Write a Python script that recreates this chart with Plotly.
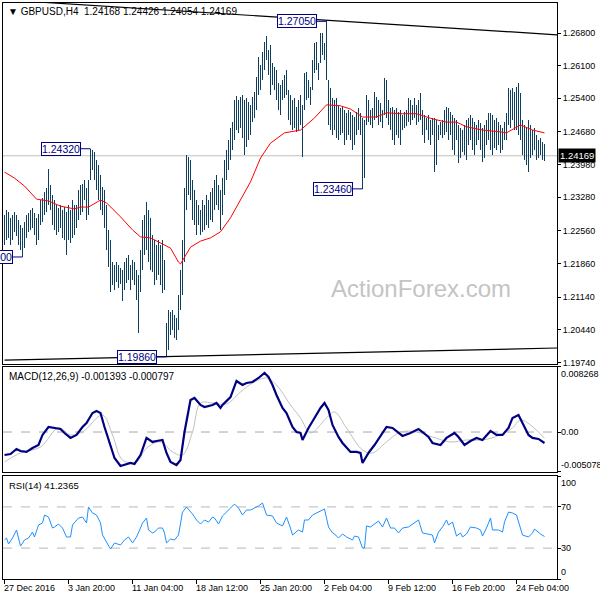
import plotly.graph_objects as go

# ---------------- data ----------------
symbol_title = "GBPUSD,H4"
last_ohlc = [1.24168, 1.24426, 1.24054, 1.24169]

bar_high = [
    1.2290, 1.2301, 1.2296, 1.2284, 1.2290, 1.2296, 1.2290, 1.2279, 1.2269, 1.2262,
    1.2275, 1.2290, 1.2294, 1.2301, 1.2305, 1.2294, 1.2284, 1.2292, 1.2322, 1.2327,
    1.2340, 1.2348, 1.2389, 1.2354, 1.2333, 1.2322, 1.2311, 1.2305, 1.2311, 1.2301,
    1.2307, 1.2296, 1.2311, 1.2301, 1.2322, 1.2311, 1.2311, 1.2344, 1.2354, 1.2357,
    1.2365, 1.2348, 1.2365, 1.2432, 1.2429, 1.2425, 1.2408, 1.2397, 1.2376, 1.2350,
    1.2344, 1.2311, 1.2258, 1.2236, 1.2189, 1.2183, 1.2189, 1.2183, 1.2176, 1.2172,
    1.2189, 1.2198, 1.2204, 1.2183, 1.2194, 1.2189, 1.2172, 1.2161, 1.2215, 1.2279,
    1.2290, 1.2318, 1.2301, 1.2284, 1.2247, 1.2236, 1.2226, 1.2236, 1.2226, 1.2236,
    1.2194, 1.2059, 1.2086, 1.2082, 1.2086, 1.2076, 1.2069, 1.2119, 1.2172, 1.2236,
    1.2348, 1.2419, 1.2414, 1.2408, 1.2365, 1.2344, 1.2322, 1.2311, 1.2301, 1.2322,
    1.2311, 1.2333, 1.2322, 1.2340, 1.2348, 1.2365, 1.2376, 1.2354, 1.2344, 1.2369,
    1.2408, 1.2429, 1.2451, 1.2476, 1.2489, 1.2536, 1.2545, 1.2536, 1.2543, 1.2547,
    1.2536, 1.2541, 1.2532, 1.2526, 1.2543, 1.2553, 1.2586, 1.2629, 1.2612, 1.2639,
    1.2661, 1.2674, 1.2644, 1.2654, 1.2616, 1.2607, 1.2601, 1.2573, 1.2568, 1.2579,
    1.2590, 1.2601, 1.2558, 1.2547, 1.2536, 1.2541, 1.2521, 1.2536, 1.2547, 1.2526,
    1.2594, 1.2596, 1.2579, 1.2564, 1.2622, 1.2659, 1.2661, 1.2616, 1.2680, 1.2680,
    1.2659, 1.2705, 1.2579, 1.2562, 1.2541, 1.2536, 1.2541, 1.2526, 1.2519, 1.2521,
    1.2515, 1.2509, 1.2515, 1.2511, 1.2504, 1.2500, 1.2511, 1.2519, 1.2509, 1.2498,
    1.2494, 1.2547, 1.2536, 1.2515, 1.2519, 1.2553, 1.2543, 1.2536, 1.2530, 1.2515,
    1.2584, 1.2579, 1.2536, 1.2519, 1.2521, 1.2515, 1.2519, 1.2511, 1.2515, 1.2504,
    1.2511, 1.2515, 1.2541, 1.2536, 1.2526, 1.2541, 1.2526, 1.2536, 1.2551, 1.2515,
    1.2504, 1.2498, 1.2504, 1.2494, 1.2498, 1.2498, 1.2494, 1.2483, 1.2489, 1.2494,
    1.2515, 1.2521, 1.2519, 1.2511, 1.2504, 1.2498, 1.2494, 1.2483, 1.2476, 1.2472,
    1.2483, 1.2494, 1.2498, 1.2504, 1.2498, 1.2489, 1.2483, 1.2494, 1.2487, 1.2476,
    1.2483, 1.2494, 1.2509, 1.2509, 1.2504, 1.2494, 1.2498, 1.2489, 1.2483, 1.2476,
    1.2489, 1.2509, 1.2562, 1.2558, 1.2562, 1.2553, 1.2564, 1.2573, 1.2551, 1.2494,
    1.2483, 1.2476, 1.2494, 1.2483, 1.2472, 1.2476, 1.2461, 1.2451, 1.2455, 1.2446,
    1.24426,
]
bar_low = [
    1.2226, 1.2236, 1.2241, 1.2226, 1.2236, 1.2254, 1.2245, 1.2226, 1.2215, 1.2200,
    1.2219, 1.2241, 1.2254, 1.2258, 1.2262, 1.2247, 1.2226, 1.2236, 1.2269, 1.2275,
    1.2290, 1.2296, 1.2311, 1.2301, 1.2269, 1.2258, 1.2247, 1.2254, 1.2262, 1.2241,
    1.2236, 1.2204, 1.2236, 1.2230, 1.2241, 1.2247, 1.2262, 1.2279, 1.2290, 1.2296,
    1.2322, 1.2279, 1.2290, 1.2365, 1.2387, 1.2365, 1.2344, 1.2322, 1.2301, 1.2290,
    1.2262, 1.2215, 1.2178, 1.2125, 1.2140, 1.2129, 1.2146, 1.2134, 1.2142, 1.2106,
    1.2129, 1.2144, 1.2151, 1.2129, 1.2151, 1.2140, 1.2108, 1.2037, 1.2125, 1.2172,
    1.2204, 1.2215, 1.2189, 1.2172, 1.2168, 1.2140, 1.2151, 1.2161, 1.2140, 1.2123,
    1.2129, 1.1986, 1.2001, 1.2033, 1.2044, 1.2026, 1.2022, 1.2044, 1.2086, 1.2119,
    1.2189, 1.2301, 1.2333, 1.2322, 1.2279, 1.2269, 1.2247, 1.2269, 1.2247, 1.2254,
    1.2258, 1.2269, 1.2262, 1.2279, 1.2275, 1.2301, 1.2311, 1.2301, 1.2258, 1.2290,
    1.2333, 1.2365, 1.2387, 1.2408, 1.2429, 1.2451, 1.2472, 1.2466, 1.2476, 1.2455,
    1.2419, 1.2436, 1.2451, 1.2461, 1.2489, 1.2498, 1.2515, 1.2547, 1.2558, 1.2579,
    1.2601, 1.2622, 1.2590, 1.2547, 1.2568, 1.2558, 1.2536, 1.2515, 1.2504, 1.2536,
    1.2541, 1.2547, 1.2494, 1.2483, 1.2472, 1.2476, 1.2468, 1.2472, 1.2483, 1.2414,
    1.2515, 1.2536, 1.2541, 1.2526, 1.2558, 1.2594, 1.2601, 1.2579, 1.2616, 1.2633,
    1.2622, 1.2579, 1.2483, 1.2472, 1.2461, 1.2472, 1.2455, 1.2451, 1.2461, 1.2466,
    1.2440, 1.2451, 1.2461, 1.2451, 1.2429, 1.2440, 1.2461, 1.2472, 1.2461, 1.2346,
    1.2369, 1.2483, 1.2489, 1.2483, 1.2476, 1.2494, 1.2498, 1.2483, 1.2489, 1.2476,
    1.2504, 1.2498, 1.2483, 1.2472, 1.2451, 1.2440, 1.2461, 1.2455, 1.2440, 1.2472,
    1.2476, 1.2481, 1.2489, 1.2483, 1.2494, 1.2498, 1.2483, 1.2489, 1.2494, 1.2461,
    1.2444, 1.2472, 1.2451, 1.2440, 1.2461, 1.2382, 1.2397, 1.2451, 1.2461, 1.2455,
    1.2461, 1.2468, 1.2451, 1.2461, 1.2429, 1.2419, 1.2451, 1.2402, 1.2412, 1.2425,
    1.2419, 1.2408, 1.2440, 1.2451, 1.2429, 1.2419, 1.2440, 1.2451, 1.2429, 1.2404,
    1.2412, 1.2440, 1.2451, 1.2429, 1.2419, 1.2434, 1.2429, 1.2440, 1.2423, 1.2429,
    1.2451, 1.2451, 1.2483, 1.2476, 1.2494, 1.2472, 1.2472, 1.2461, 1.2451, 1.2419,
    1.2408, 1.2397, 1.2382, 1.2412, 1.2419, 1.2429, 1.2408, 1.2412, 1.2419, 1.2408,
    1.24054,
]

ma_idx = [0, 5, 10, 16, 22, 28, 35, 38, 42, 48, 51, 58, 64, 68, 73, 78, 83, 87, 88, 93,
          98, 103, 108, 113, 118, 123, 128, 133, 140, 148, 155, 161, 168, 173, 179, 186, 191, 198, 206, 214,
          221, 226, 231, 239, 248, 251, 258, 264, 270]
ma_val = [1.2382, 1.2369, 1.2352, 1.2324, 1.2320, 1.2309, 1.2303, 1.2307, 1.2307, 1.2322,
          1.2316, 1.2286, 1.2258, 1.2243, 1.2241, 1.2230, 1.2219, 1.2189, 1.2185, 1.2221,
          1.2234, 1.2241, 1.2254, 1.2284, 1.2322, 1.2361, 1.2412, 1.2444, 1.2466, 1.2472,
          1.2498, 1.2526, 1.2524, 1.2517, 1.2500, 1.2500, 1.2509, 1.2507, 1.2507, 1.2496,
          1.2489, 1.2489, 1.2479, 1.2472, 1.2468, 1.2466, 1.2483, 1.2472, 1.2466]

macd_idx = [0, 3, 6, 8, 11, 14, 17, 19, 22, 25, 28, 30, 33, 36, 39, 41, 44, 46, 48, 50,
            53, 55, 58, 60, 63, 65, 68, 71, 74, 76, 79, 81, 83, 86, 88, 90, 93, 95, 98, 100,
            104, 106, 108, 109, 113, 116, 119, 121, 124, 127, 130, 132, 134, 136, 139, 141, 144, 146, 148, 149,
            152, 155, 158, 160, 162, 164, 167, 169, 173, 176, 178, 179, 182, 185, 189, 191, 194, 197, 199, 203,
            207, 209, 212, 214, 218, 221, 225, 227, 230, 233, 236, 239, 243, 246, 249, 252, 254, 257, 259, 262,
            264, 267, 270]
macd_val = [-0.00292, -0.00279, -0.00215, -0.00241, -0.00253, -0.00203, -0.00165, -0.00037, 0.00064, 0.00052,
            0.00039, -0.00012, -0.00075, -0.00037, 0.00064, 0.00115, 0.00242, 0.00268, 0.00242, 0.00064,
            -0.00165, -0.00330, -0.00431, -0.00419, -0.00393, -0.00406, -0.00292, -0.00075, -0.00126, -0.00114,
            -0.00101, -0.00266, -0.00381, -0.00419, -0.00355, 0.0, 0.00407, 0.00433, 0.00344, 0.00318,
            0.00344, 0.00369, 0.00306, 0.00344, 0.00445, 0.00649, 0.00598, 0.00623, 0.00636, 0.00687,
            0.00751, 0.00700, 0.00598, 0.00471, 0.00306, 0.00242, 0.00064, 0.00001, -0.00012, -0.00101,
            0.00052, 0.00179, 0.00306, 0.00369, 0.00280, 0.00090, -0.00063, -0.00139, -0.00253, -0.00253,
            -0.00266, -0.00393, -0.00266, -0.00165, -0.00012, 0.00064, 0.00052, -0.00012, -0.00050, -0.00012,
            0.00039, 0.0, -0.00063, -0.00139, -0.00165, -0.00075, -0.00012, -0.00063, -0.00165, -0.00114,
            -0.00075, -0.00101, 0.00014, -0.00037, -0.00037, 0.00052, 0.00179, 0.00217, 0.00115, -0.00037,
            -0.00075, -0.00088, -0.001393]

sig_idx = [0, 8, 18, 27, 33, 39, 49, 54, 59, 66, 71, 78, 84, 89, 94, 98, 104, 111, 118, 124,
           131, 136, 143, 148, 153, 161, 165, 171, 179, 184, 191, 198, 206, 214, 223, 231, 239, 248, 254, 258,
           263, 270]
sig_val = [-0.00381, -0.00266, -0.00190, 0.00052, -0.00037, 0.0, 0.00217, -0.00037, -0.00355, -0.00381,
           -0.00203, -0.00126, -0.00253, -0.00292, 0.0, 0.00369, 0.00369, 0.00357, 0.00509, 0.00623,
           0.00687, 0.00598, 0.00344, 0.00179, -0.00012, 0.00179, 0.00255, 0.00052, -0.00228, -0.00266,
           -0.00126, 0.0, 0.0, -0.00063, -0.00126, -0.00101, -0.00101, -0.00037, 0.00052, 0.00153,
           0.00090, -0.000797]

rsi_idx = [0, 1, 2, 4, 6, 8, 10, 12, 14, 15, 17, 19, 20, 22, 24, 25, 27, 29, 31, 33,
           34, 37, 39, 41, 42, 44, 46, 48, 49, 51, 53, 55, 58, 60, 62, 64, 66, 68, 69, 71,
           72, 74, 75, 77, 79, 80, 81, 83, 85, 87, 89, 91, 94, 96, 98, 100, 102, 104, 105, 107,
           109, 113, 115, 117, 119, 121, 123, 125, 127, 129, 131, 134, 136, 139, 141, 143, 144, 147, 149, 150,
           152, 154, 157, 160, 162, 164, 165, 167, 169, 171, 174, 175, 177, 179, 180, 181, 183, 185, 187, 189,
           191, 193, 195, 197, 199, 202, 204, 207, 209, 212, 214, 215, 217, 219, 221, 222, 224, 226, 228, 229,
           231, 233, 236, 238, 239, 241, 243, 244, 247, 249, 250, 252, 254, 256, 258, 259, 262, 264, 265, 267,
           268, 270]
rsi_val = [37.9, 39.8, 34.0, 39.8, 47.6, 32.0, 37.9, 39.8, 45.6, 40.8,
           52.4, 54.4, 62.1, 60.2, 49.5, 50.5, 53.4, 49.5, 40.8, 40.8,
           52.4, 59.2, 60.2, 54.4, 69.9, 64.1, 62.1, 54.4, 42.7, 35.9,
           29.1, 35.0, 33.0, 37.9, 40.8, 35.0, 40.8, 49.5, 54.4, 59.2,
           47.6, 44.7, 45.6, 49.5, 49.5, 44.7, 35.0, 38.8, 37.9, 42.7,
           65.0, 69.9, 63.1, 57.3, 53.4, 57.3, 55.3, 60.2, 59.2, 53.4,
           61.2, 68.9, 72.8, 68.9, 62.1, 67.0, 67.0, 68.9, 70.9, 73.8,
           62.1, 61.2, 54.4, 51.5, 60.2, 49.5, 42.7, 47.6, 45.6, 57.3,
           57.3, 62.1, 65.0, 68.0, 50.5, 44.7, 43.7, 39.8, 43.7, 40.8,
           37.9, 41.7, 40.8, 30.1, 30.1, 51.5, 50.5, 53.4, 56.3, 50.5,
           59.2, 49.5, 49.5, 44.7, 49.5, 50.5, 53.4, 57.3, 44.7, 43.7,
           42.7, 35.0, 45.6, 50.5, 57.3, 52.4, 55.3, 41.7, 44.7, 40.8,
           43.7, 50.5, 49.5, 47.6, 41.7, 49.5, 59.2, 47.6, 47.6, 45.6,
           55.3, 65.0, 64.1, 62.1, 50.5, 42.7, 40.8, 44.7, 48.5, 44.7,
           43.7, 41.2365]

swing_idx = [9, 43, 81, 161, 179]
swing_price = [1.2200, 1.2432, 1.1986, 1.2705, 1.2346]

trend_upper_idx = [0, 277]
trend_upper_val = [1.2751, 1.2676]
trend_lower_idx = [0, 277]
trend_lower_val = [1.1979, 1.2005]

x_tick_idx = [0, 32, 64, 96, 128, 160, 192, 224, 256]
x_tick_labels = ["27 Dec 2016", "3 Jan 20:00", "11 Jan 04:00", "18 Jan 12:00", "25 Jan 20:00",
                 "2 Feb 04:00", "9 Feb 12:00", "16 Feb 20:00", "24 Feb 04:00"]
price_ticks = [1.2680, 1.2610, 1.2540, 1.2468, 1.2398, 1.2328, 1.2256, 1.2186, 1.2114, 1.2044, 1.1974]
macd_ticks = [0.008268, 0.0, -0.005078]
macd_tick_labels = ["0.008268", "0.00", "-0.005078"]
rsi_ticks = [100, 70, 30, 0]
rsi_levels = [70, 30]
macd_params = "MACD(12,26,9)"
rsi_params = "RSI(14)"
watermark = "ActionForex.com"

# ---------------- styling ----------------
FONT = "Liberation Sans, Arial, sans-serif"
BAR_COLOR = "#0e3f5f"
NAVY = "#000080"
XR = [-0.75, 276.25]
Y_MAIN = [1.19707, 1.27443]
Y_MACD = [-0.005078, 0.008268]
Y_RSI = [0, 100]
LABEL_GAP_BARS = 5  # connector length in bars

fig = go.Figure()

# price bars (high-low lines)
bx, by = [], []
for i, (h, l) in enumerate(zip(bar_high, bar_low)):
    bx += [i, i, None]
    by += [l, h, None]
fig.add_trace(go.Scatter(x=bx, y=by, mode="lines", line=dict(color=BAR_COLOR, width=1),
                         xaxis="x", yaxis="y", hoverinfo="skip"))
fig.add_trace(go.Scatter(x=ma_idx, y=ma_val, mode="lines", line=dict(color="#ff0000", width=1),
                         xaxis="x", yaxis="y", hoverinfo="skip"))
fig.add_trace(go.Scatter(x=trend_upper_idx, y=trend_upper_val, mode="lines",
                         line=dict(color="black", width=1.2), xaxis="x", yaxis="y", hoverinfo="skip"))
fig.add_trace(go.Scatter(x=trend_lower_idx, y=trend_lower_val, mode="lines",
                         line=dict(color="black", width=1.2), xaxis="x", yaxis="y", hoverinfo="skip"))

# MACD
fig.add_trace(go.Scatter(x=sig_idx, y=sig_val, mode="lines", line=dict(color="#c0c0c0", width=1, shape="spline"),
                         xaxis="x2", yaxis="y2", hoverinfo="skip"))
fig.add_trace(go.Scatter(x=macd_idx, y=macd_val, mode="lines", line=dict(color=NAVY, width=2.2),
                         xaxis="x2", yaxis="y2", hoverinfo="skip"))
# RSI
fig.add_trace(go.Scatter(x=rsi_idx, y=rsi_val, mode="lines", line=dict(color="#1e90ff", width=1),
                         xaxis="x3", yaxis="y3", hoverinfo="skip"))

axis_common = dict(showline=True, mirror=True, linecolor="black", linewidth=1,
                   showgrid=False, zeroline=False)
fig.update_layout(
    width=600, height=600,
    margin=dict(l=3, r=43, t=3, b=21),
    paper_bgcolor="white", plot_bgcolor="white",
    showlegend=False, hovermode=False,
    font=dict(family=FONT, size=9, color="black"),
    xaxis=dict(domain=[0, 1], anchor="y", range=XR, showticklabels=False, ticks="", **axis_common),
    xaxis2=dict(domain=[0, 1], anchor="y2", range=XR, showticklabels=False, ticks="", **axis_common),
    xaxis3=dict(domain=[0, 1], anchor="y3", range=XR, showticklabels=False, ticks="outside",
                ticklen=4, tickcolor="black", tickvals=x_tick_idx, **axis_common),
    yaxis=dict(domain=[0.3733, 1], anchor="x", side="right", range=Y_MAIN,
               tickvals=price_ticks, ticktext=[f"{v:.5f}" for v in price_ticks],
               ticks="outside", ticklen=3, tickcolor="black", tickfont=dict(size=9), **axis_common),
    yaxis2=dict(domain=[0.1858, 0.3681], anchor="x2", side="right", range=Y_MACD,
                tickvals=macd_ticks, showticklabels=False, ticks="outside", ticklen=3,
                tickcolor="black", **axis_common),
    yaxis3=dict(domain=[0, 0.1788], anchor="x3", side="right", range=Y_RSI,
                tickvals=rsi_ticks, showticklabels=False, ticks="outside", ticklen=3,
                tickcolor="black", **axis_common),
)

# reference lines
fig.add_shape(type="line", xref="paper", x0=0, x1=1, yref="y", y0=last_ohlc[3], y1=last_ohlc[3],
              line=dict(color="#c0c0c0", width=1), layer="below")
fig.add_shape(type="line", xref="paper", x0=0, x1=1, yref="y2", y0=0, y1=0,
              line=dict(color="#a8a8a8", width=1, dash="dash"), layer="below")
for lv in rsi_levels:
    fig.add_shape(type="line", xref="paper", x0=0, x1=1, yref="y3", y0=lv, y1=lv,
                  line=dict(color="#b8b8b8", width=1, dash="dash"), layer="below")

# swing labels: box to the left of the bar with a short connector
for idx, p in zip(swing_idx, swing_price):
    fig.add_shape(type="line", xref="x", yref="y", x0=idx - LABEL_GAP_BARS, x1=idx, y0=p, y1=p,
                  line=dict(color=NAVY, width=1))
    fig.add_annotation(x=idx - LABEL_GAP_BARS, y=p, xref="x", yref="y", text=f"{p:.5f}",
                       showarrow=False, xanchor="right", yanchor="middle",
                       font=dict(family=FONT, size=10.5, color=NAVY),
                       bordercolor=NAVY, borderwidth=1, borderpad=0, bgcolor="white")

# current price tag
fig.add_annotation(xref="paper", x=1, yref="y", y=last_ohlc[3], xanchor="left", xshift=1,
                   text=f"{last_ohlc[3]:.5f}", showarrow=False, bgcolor="black",
                   font=dict(family=FONT, size=9.5, color="white"), borderpad=1)

# MACD / RSI axis labels
for v, t in zip(macd_ticks, macd_tick_labels):
    anchor = "top" if v == max(macd_ticks) else ("bottom" if v == min(macd_ticks) else "middle")
    fig.add_annotation(xref="paper", x=1, yref="y2", y=v, xanchor="left", yanchor=anchor, xshift=2,
                       text=t, showarrow=False, font=dict(family=FONT, size=9))
for v in rsi_ticks:
    anchor = "top" if v == 100 else ("bottom" if v == 0 else "middle")
    fig.add_annotation(xref="paper", x=1, yref="y3", y=v, xanchor="left", yanchor=anchor, xshift=2,
                       text=str(v), showarrow=False, font=dict(family=FONT, size=9))

# x labels (left aligned to tick)
for idx, lab in zip(x_tick_idx, x_tick_labels):
    fig.add_annotation(xref="x3", x=idx, yref="paper", y=0, xanchor="left", yanchor="top",
                       xshift=-3, yshift=-2, text=lab, showarrow=False, font=dict(family=FONT, size=9))

# panel captions
fig.add_annotation(xref="paper", x=0, yref="paper", y=1, xanchor="left", yanchor="top",
                   xshift=3, yshift=-1, showarrow=False,
                   text=f"▼ {symbol_title}  " + " ".join(f"{v:.5f}" for v in last_ohlc),
                   font=dict(family=FONT, size=10, color="black"))
fig.add_annotation(xref="paper", x=0, yref="y2", y=Y_MACD[1], xanchor="left", yanchor="top",
                   xshift=4, yshift=-2, showarrow=False,
                   text=f"{macd_params} {macd_val[-1]:.6f} {sig_val[-1]:.6f}",
                   font=dict(family=FONT, size=10, color="black"))
fig.add_annotation(xref="paper", x=0, yref="y3", y=Y_RSI[1], xanchor="left", yanchor="top",
                   xshift=4, yshift=-2, showarrow=False,
                   text=f"{rsi_params} {rsi_val[-1]:.4f}",
                   font=dict(family=FONT, size=9.5, color="black"))

# watermark
fig.add_annotation(xref="paper", x=0.755, yref="paper", y=0.505, xanchor="center", yanchor="middle",
                   text=watermark, showarrow=False,
                   font=dict(family=FONT, size=24, color="#c4c4c4"))

post = """
document.body.style.margin='0';document.body.style.padding='0';
var tr = document.querySelectorAll('.scatterlayer .trace');
if (tr.length) { tr[0].querySelectorAll('path').forEach(function(p){ p.style.shapeRendering='crispEdges'; }); }
"""
fig.write_html("out.html", config={"displayModeBar": False, "staticPlot": True}, post_script=post)
